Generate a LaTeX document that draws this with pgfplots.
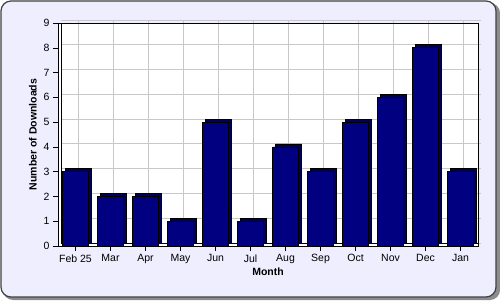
\documentclass[border=0pt]{standalone}
\usepackage{pgfplots}
\pgfplotsset{compat=1.18}
\usepackage{fontspec}
\setmainfont{Liberation Sans}
\definecolor{bgl}{RGB}{238,238,255}
\definecolor{navyf}{RGB}{0,0,128}
\definecolor{navyd}{RGB}{0,0,90}
\definecolor{gridc}{RGB}{200,200,200}
\begin{document}
\begin{tikzpicture}[x=1pt,y=1pt]
\useasboundingbox (0,0) rectangle (500,300);
\fill[black!45, rounded corners=10pt] (3,0) rectangle (500,297);
\draw[line width=1.2pt, draw=black!75, fill=bgl, rounded corners=10pt] (1,3) rectangle (496,299);
\begin{axis}[
  at={(58pt,54pt)}, anchor=south west, scale only axis,
  width=420pt, height=223pt,
  xmin=-0.5, xmax=11.5, ymin=0, ymax=9,
  xtick={0,...,11},
  xticklabels={Feb 25,Mar,Apr,May,Jun,Jul,Aug,Sep,Oct,Nov,Dec,Jan},
  ytick={0,...,9},
  tick align=outside, tick pos=left, major tick length=5pt,
  tick style={black, thin},
  grid=major, grid style={gridc, line width=0.8pt, xshift=3pt, yshift=3pt},
  axis background/.style={fill=white},
  axis line style={black, line width=0.8pt},
  /pgf/number format/assume math mode=true,
  ticklabel style={font=\fontsize{10.5}{12}\selectfont},
  xlabel={Month}, ylabel={Number of Downloads},
  label style={font=\fontsize{10.5}{12}\selectfont\bfseries},
  xlabel style={yshift=3pt},
  ylabel style={yshift=0pt},
]
\draw[black, line width=0.6pt] ([xshift=3pt,yshift=3pt]axis cs:-0.5,0) -- ([xshift=0pt,yshift=3pt]axis cs:11.5,0);
\draw[black, line width=0.6pt] ([xshift=3pt,yshift=3pt]axis cs:-0.5,0) -- ([xshift=3pt]axis cs:-0.5,9);
\addplot[ybar, bar shift=0pt, bar width=26pt, fill=navyd, draw=black, line width=0.6pt, xshift=3pt, yshift=3pt]
  coordinates {(0,3) (1,2) (2,2) (3,1) (4,5) (5,1) (6,4) (7,3) (8,5) (9,6) (10,8) (11,3)};
\addplot[ybar, bar shift=0pt, bar width=26pt, fill=navyf, draw=black, line width=0.6pt]
  coordinates {(0,3) (1,2) (2,2) (3,1) (4,5) (5,1) (6,4) (7,3) (8,5) (9,6) (10,8) (11,3)};
\end{axis}
\end{tikzpicture}
\end{document}
